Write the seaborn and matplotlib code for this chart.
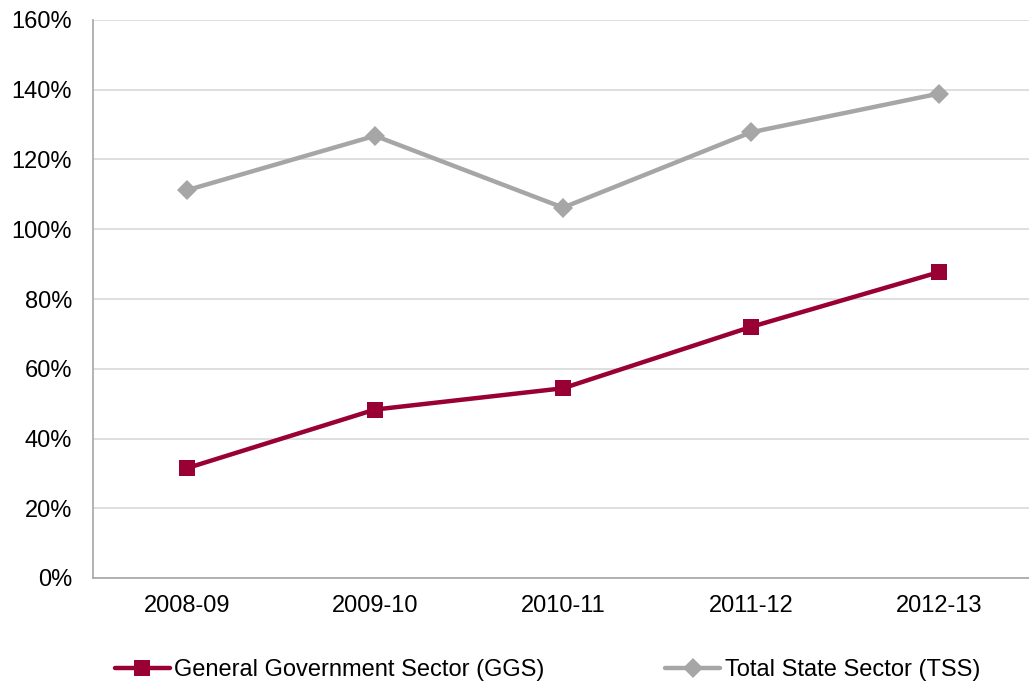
import matplotlib
matplotlib.use("Agg")
import matplotlib.pyplot as plt
import seaborn as sns
import pandas as pd
from matplotlib.ticker import FuncFormatter

years = ["2008-09", "2009-10", "2010-11", "2011-12", "2012-13"]
ggs = [31.5, 48.3, 54.4, 72.0, 87.7]
tss = [111.2, 126.8, 106.2, 127.8, 138.9]
series_names = ["General Government Sector (GGS)", "Total State Sector (TSS)"]

df = pd.DataFrame({
    "year": years * 2,
    "value": ggs + tss,
    "series": [series_names[0]] * len(years) + [series_names[1]] * len(years),
})

sns.set_theme(style="white")
plt.rcParams["font.family"] = ["Liberation Sans", "DejaVu Sans"]
plt.rcParams["text.color"] = "black"

fig = plt.figure(figsize=(10.29, 6.84), dpi=100)
ax = fig.add_axes([93 / 1029, 1 - 578 / 684, (1033 - 93) / 1029, (578 - 20) / 684])

palette = {series_names[0]: "#990033", series_names[1]: "#A6A6A6"}
markers = {series_names[0]: "s", series_names[1]: "D"}

sns.lineplot(data=df, x="year", y="value", hue="series", style="series",
             palette=palette, markers=markers, dashes=False, linewidth=3.2,
             markersize=11.5, markeredgewidth=0, ax=ax, sort=False, legend=True)

# slightly smaller diamonds on the grey series
for line in ax.get_lines():
    if line.get_marker() == "D":
        line.set_markersize(10)

ax.set_ylim(0, 160)
ax.set_yticks(range(0, 161, 20))
ax.yaxis.set_major_formatter(FuncFormatter(lambda v, _: f"{int(v)}%"))
ax.set_xlim(-0.5, 4.5)
ax.set_xlabel("")
ax.set_ylabel("")
ax.grid(axis="y", color="#D9D9D9", linewidth=1.2)
ax.set_axisbelow(True)
for side in ["top", "right"]:
    ax.spines[side].set_visible(False)
for side in ["left", "bottom"]:
    ax.spines[side].set_color("#A6A6A6")
    ax.spines[side].set_linewidth(1.2)
ax.tick_params(axis="both", labelsize=17, colors="black", length=0)
ax.tick_params(axis="y", pad=15)
ax.tick_params(axis="x", pad=12)

handles, labels = ax.get_legend_handles_labels()
ax.get_legend().remove()
for h in handles:
    if h.get_marker() == "D":
        h.set_markersize(10)
leg = fig.legend(handles, labels, loc="center", bbox_to_anchor=(547.5 / 1029, 1 - 670 / 684),
                 ncol=2, frameon=False, fontsize=17, handlelength=2.33,
                 handletextpad=0.2, columnspacing=5.1)
for t in leg.get_texts():
    t.set_color("black")

fig.savefig("out.png", dpi=100)
